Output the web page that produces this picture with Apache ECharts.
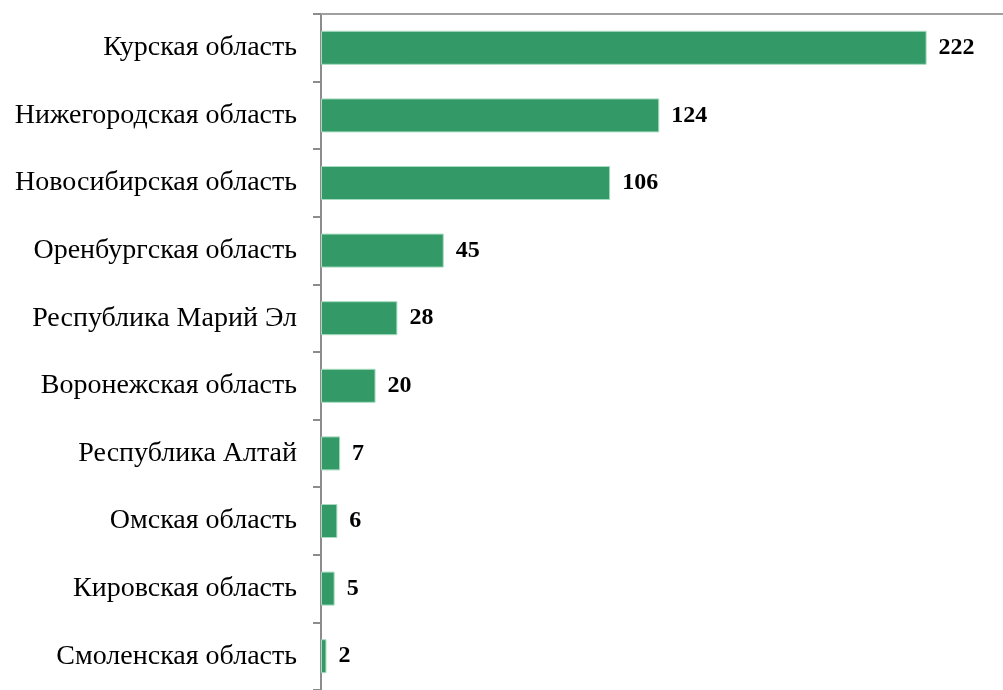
<!DOCTYPE html>
<html>
<head>
<meta charset="utf-8">
<script src="https://cdn.jsdelivr.net/npm/echarts@6/dist/echarts.min.js"></script>
<style>
html,body{margin:0;padding:0;background:#fff;}
#chart{width:1003px;height:690px;}
</style>
</head>
<body>
<div id="chart"></div>
<script>
const categories = [
  "Курская область",
  "Нижегородская область",
  "Новосибирская область",
  "Оренбургская область",
  "Республика Марий Эл",
  "Воронежская область",
  "Республика Алтай",
  "Омская область",
  "Кировская область",
  "Смоленская область"
];
const values = [222, 124, 106, 45, 28, 20, 7, 6, 5, 2];

const chart = echarts.init(document.getElementById('chart'), null, {renderer: 'canvas'});
chart.setOption({
  animation: false,
  backgroundColor: '#ffffff',
  grid: {left: 321, top: 14, width: 686, height: 677, containLabel: false},
  xAxis: {
    type: 'value',
    position: 'top',
    min: 0,
    max: 250,
    axisLine: {show: true, lineStyle: {color: '#a0a0a0', width: 2}},
    axisTick: {show: false},
    axisLabel: {show: false},
    splitLine: {show: false}
  },
  yAxis: {
    type: 'category',
    inverse: true,
    data: categories,
    axisLine: {show: true, lineStyle: {color: '#8c8c8c', width: 2}},
    axisTick: {show: true, inside: false, length: 8, lineStyle: {color: '#8c8c8c', width: 2}},
    axisLabel: {
      margin: 24,
      color: '#000',
      fontFamily: 'Liberation Serif, Times New Roman, serif',
      fontSize: 28
    }
  },
  series: [{
    type: 'bar',
    data: values,
    barWidth: 34,
    itemStyle: {color: '#339966', borderColor: '#a8dcc0', borderWidth: 1},
    label: {
      show: true,
      position: 'right',
      distance: 12,
      color: '#000',
      fontFamily: 'Liberation Serif, Times New Roman, serif',
      fontWeight: 'bold',
      fontSize: 24
    }
  }]
});
</script>
</body>
</html>
